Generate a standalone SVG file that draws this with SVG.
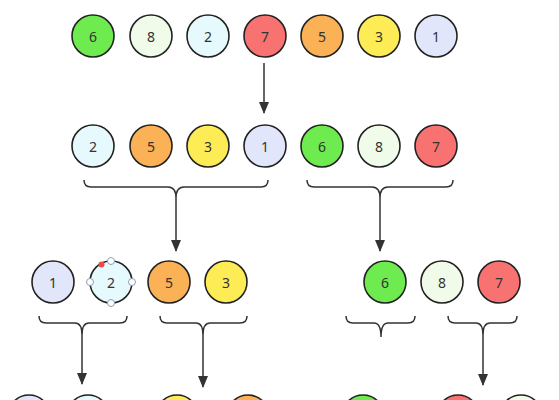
<svg xmlns="http://www.w3.org/2000/svg" width="559" height="400" viewBox="0 0 559 400">
<style>
.n circle.b{stroke:#222;stroke-width:1.6}
.n text{font-family:"Segoe UI","Noto Sans","Open Sans",sans-serif;font-size:14px;fill:#333;text-anchor:middle;dominant-baseline:central}
.c1{fill:#e1e6fa}.c2{fill:#e6f9fc}.c3{fill:#fdec55}.c5{fill:#fbb155}.c6{fill:#6eeb4e}.c7{fill:#f87272}.c8{fill:#f1fbe9}
.br{fill:none;stroke:#333;stroke-width:1.5}
.ar{stroke:#333;stroke-width:1.5;fill:none}
.h{fill:#fff;stroke:#8aa0b5;stroke-width:1}
</style>
<defs>
<marker id="ah" viewBox="0 0 12 10" refX="11" refY="5" markerWidth="12" markerHeight="10" markerUnits="userSpaceOnUse" orient="auto"><path d="M0,0 L12,5 L0,10 z" fill="#333"/></marker>
</defs>
<rect width="559" height="400" fill="#fff"/>
<!-- row 1 -->
<g id="r1n6" class="n"><circle class="b c6" cx="93" cy="36" r="21"/><text x="93" y="36">6</text></g>
<g id="r1n8" class="n"><circle class="b c8" cx="151" cy="36" r="21"/><text x="151" y="36">8</text></g>
<g id="r1n2" class="n"><circle class="b c2" cx="208" cy="36" r="21"/><text x="208" y="36">2</text></g>
<g id="r1n7" class="n"><circle class="b c7" cx="265" cy="36" r="21"/><text x="265" y="36">7</text></g>
<g id="r1n5" class="n"><circle class="b c5" cx="322" cy="36" r="21"/><text x="322" y="36">5</text></g>
<g id="r1n3" class="n"><circle class="b c3" cx="379" cy="36" r="21"/><text x="379" y="36">3</text></g>
<g id="r1n1" class="n"><circle class="b c1" cx="436" cy="36" r="21"/><text x="436" y="36">1</text></g>
<!-- row 2 -->
<g id="r2n2" class="n"><circle class="b c2" cx="93" cy="146" r="21"/><text x="93" y="146">2</text></g>
<g id="r2n5" class="n"><circle class="b c5" cx="151" cy="146" r="21"/><text x="151" y="146">5</text></g>
<g id="r2n3" class="n"><circle class="b c3" cx="208" cy="146" r="21"/><text x="208" y="146">3</text></g>
<g id="r2n1" class="n"><circle class="b c1" cx="265" cy="146" r="21"/><text x="265" y="146">1</text></g>
<g id="r2n6" class="n"><circle class="b c6" cx="322" cy="146" r="21"/><text x="322" y="146">6</text></g>
<g id="r2n8" class="n"><circle class="b c8" cx="379" cy="146" r="21"/><text x="379" y="146">8</text></g>
<g id="r2n7" class="n"><circle class="b c7" cx="436" cy="146" r="21"/><text x="436" y="146">7</text></g>
<!-- row 3 -->
<g id="r3n1" class="n"><circle class="b c1" cx="53" cy="282" r="21"/><text x="53" y="282">1</text></g>
<g id="r3n2" class="n"><circle class="b c2" cx="111" cy="282" r="21"/><text x="111" y="282">2</text>
<circle class="h" cx="111" cy="261" r="3.5"/><circle class="h" cx="111" cy="303" r="3.5"/><circle class="h" cx="90" cy="282" r="3.5"/><circle class="h" cx="132" cy="282" r="3.5"/><circle cx="101.5" cy="264.5" r="3" fill="#f04848"/></g>
<g id="r3n5" class="n"><circle class="b c5" cx="169" cy="282" r="21"/><text x="169" y="282">5</text></g>
<g id="r3n3" class="n"><circle class="b c3" cx="226" cy="282" r="21"/><text x="226" y="282">3</text></g>
<g id="r3n6" class="n"><circle class="b c6" cx="385" cy="282" r="21"/><text x="385" y="282">6</text></g>
<g id="r3n8" class="n"><circle class="b c8" cx="442" cy="282" r="21"/><text x="442" y="282">8</text></g>
<g id="r3n7" class="n"><circle class="b c7" cx="499" cy="282" r="21"/><text x="499" y="282">7</text></g>
<!-- row 4 -->
<g id="r4n1" class="n"><circle class="b c1" cx="29" cy="416" r="21"/></g>
<g id="r4n2" class="n"><circle class="b c2" cx="88" cy="416" r="21"/></g>
<g id="r4n3" class="n"><circle class="b c3" cx="177" cy="416" r="21"/></g>
<g id="r4n5" class="n"><circle class="b c5" cx="248" cy="416" r="21"/></g>
<g id="r4n6" class="n"><circle class="b c6" cx="363" cy="416" r="21"/></g>
<g id="r4n7" class="n"><circle class="b c7" cx="458" cy="416" r="21"/></g>
<g id="r4n8" class="n"><circle class="b c8" cx="521" cy="416" r="21"/></g>
<!-- connectors -->
<g id="connectors">
<path class="ar" d="M264,63 L264,113" marker-end="url(#ah)"/>
<path class="br" d="M84,180 Q84,187 91,187 L168,187 Q176,187 176,198 Q176,187 184,187 L261,187 Q268,187 268,180"/>
<path class="ar" d="M176,198 L176,251" marker-end="url(#ah)"/>
<path class="br" d="M307,180 Q307,187 314,187 L372,187 Q380,187 380,198 Q380,187 388,187 L446,187 Q453,187 453,180"/>
<path class="ar" d="M380,198 L380,251" marker-end="url(#ah)"/>
<path class="br" d="M39,316 Q39,323 46,323 L75,323 Q82,323 82,335 Q82,323 89,323 L120,323 Q127,323 127,316"/>
<path class="ar" d="M82,335 L82,384" marker-end="url(#ah)"/>
<path class="br" d="M160,316 Q160,323 167,323 L196,323 Q203,323 203,335 Q203,323 210,323 L240,323 Q247,323 247,316"/>
<path class="ar" d="M203,335 L203,387" marker-end="url(#ah)"/>
<path class="br" d="M346,316 Q346,323 353,323 L374,323 Q381,323 381,337 Q381,323 388,323 L408,323 Q415,323 415,316"/>
<path class="br" d="M448,316 Q448,323 455,323 L476,323 Q483,323 483,335 Q483,323 490,323 L510,323 Q517,323 517,316"/>
<path class="ar" d="M483,335 L483,385" marker-end="url(#ah)"/>
</g>
</svg>
